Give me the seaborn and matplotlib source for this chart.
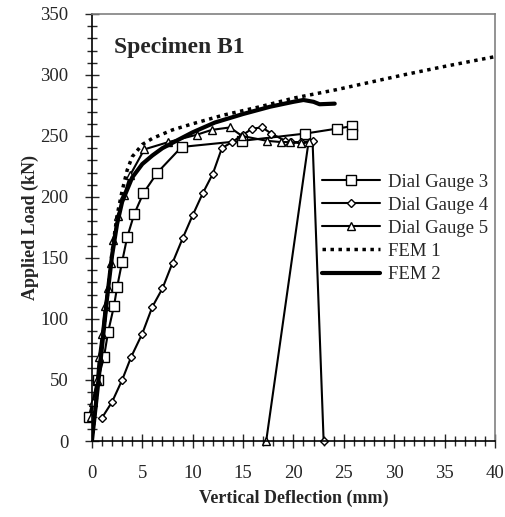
import numpy as np
import pandas as pd
import seaborn as sns
import matplotlib.pyplot as plt
from matplotlib.ticker import MultipleLocator

# values
dg3_x = [-0.3, 0.6, 1.2, 1.6, 2.2, 2.5, 3.0, 3.5, 4.2, 5.1, 6.5, 8.9, 14.9, 21.2, 24.3, 25.8, 25.8]
dg3_y = [20, 50, 69, 89, 111, 126, 147, 167, 186, 203, 220, 241, 246, 252, 256, 258, 252]

dg4_x = [1.0, 2.0, 3.0, 3.9, 5.0, 6.0, 7.0, 8.0, 9.0, 10.0, 11.0, 12.0, 12.9, 13.9, 15.0,
         15.9, 16.9, 17.8, 19.2, 19.8, 20.8, 21.9, 23.0]
dg4_y = [19, 32, 50, 69, 88, 110, 125, 146, 166, 185, 203, 219, 240, 245, 251,
         256, 257, 252, 246, 245, 245, 246, 0]

dg5_x = [-0.1, 0.1, 0.5, 0.7, 1.0, 1.3, 1.6, 1.9, 2.1, 2.6, 3.2, 3.8, 5.2, 7.6, 10.4, 11.9,
         13.7, 14.9, 17.4, 18.8, 19.7, 20.8, 21.5, 17.3]
dg5_y = [20, 32, 50, 69, 88, 111, 125, 146, 165, 184, 202, 218, 239, 245, 251, 255,
         257, 250, 246, 245, 245, 244, 245, 0]

fem1_x = [0, 1.0, 2.0, 2.5, 3.0, 3.5, 4.0, 5.0, 6.0, 8.0, 10.0, 13.0, 16.7, 20.0, 24.3, 30.9, 35.0, 40.0]
fem1_y = [0, 78, 155, 185, 205, 222, 233, 243, 248, 255, 260, 267, 274, 281, 288, 300, 307, 315]

fem2_x = [0, 0.5, 1.0, 1.5, 2.0, 2.5, 3.0, 4.0, 5.0, 6.0, 7.0, 8.6, 10.0, 12.2, 15.0, 17.7,
          20.0, 21.0, 22.0, 22.6, 24.1]
fem2_y = [0, 38, 77, 117, 152, 178, 196, 216, 227, 234, 240, 247, 253, 261, 268, 274,
          278, 279.5, 278, 276, 276.5]

sns.set_style("ticks")
plt.rcParams['font.family'] = ['Liberation Serif', 'DejaVu Serif']

fig = plt.figure(figsize=(5.05, 5.17), dpi=100)
ax = fig.add_axes([0.182, 0.147, 0.798, 0.826])

mk = dict(markerfacecolor='white', markeredgecolor='black', markeredgewidth=1.0)
sns.lineplot(x=dg3_x, y=dg3_y, sort=False, estimator=None, ax=ax, color='black', lw=1.5,
             marker='s', markersize=7, label='Dial Gauge 3', clip_on=False, **mk)
sns.lineplot(x=dg4_x, y=dg4_y, sort=False, estimator=None, ax=ax, color='black', lw=1.5,
             marker='D', markersize=4.5, label='Dial Gauge 4', clip_on=False, **mk)
sns.lineplot(x=dg5_x, y=dg5_y, sort=False, estimator=None, ax=ax, color='black', lw=1.5,
             marker='^', markersize=6, label='Dial Gauge 5', clip_on=False, **mk)
sns.lineplot(x=fem1_x, y=fem1_y, sort=False, estimator=None, ax=ax, color='black', lw=2.5,
             linestyle=(0, (1, 1.3)), label='FEM 1')
sns.lineplot(x=fem2_x, y=fem2_y, sort=False, estimator=None, ax=ax, color='black', lw=3,
             label='FEM 2')

ax.set_xlim(0, 40)
ax.set_ylim(0, 350)
ax.xaxis.set_major_locator(MultipleLocator(5))
ax.xaxis.set_minor_locator(MultipleLocator(1))
ax.yaxis.set_major_locator(MultipleLocator(50))
ax.yaxis.set_minor_locator(MultipleLocator(10))
ax.tick_params(which='major', direction='inout', length=10, width=1, labelsize=13.5, pad=12)
ax.tick_params(which='minor', direction='inout', length=7, width=1)

for s in ['left', 'bottom']:
    ax.spines[s].set_color('black')
    ax.spines[s].set_linewidth(1.2)
for s in ['top', 'right']:
    ax.spines[s].set_color('#808080')
    ax.spines[s].set_linewidth(1.2)

ax.set_xlabel('Vertical Deflection (mm)', fontsize=13, fontweight='bold', labelpad=6)
ax.set_ylabel('Applied Load (kN)', fontsize=13, fontweight='bold', labelpad=1)
ax.text(0.055, 0.922, 'Specimen B1', transform=ax.transAxes, fontsize=17, fontweight='bold',
        va='center', ha='left')

ax.legend(loc='center left', bbox_to_anchor=(0.571, 0.498), frameon=False, fontsize=13.5,
          handlelength=3.1, handletextpad=0.4, labelspacing=0.32, borderpad=0, borderaxespad=0)

plt.savefig('out.png', dpi=100)
